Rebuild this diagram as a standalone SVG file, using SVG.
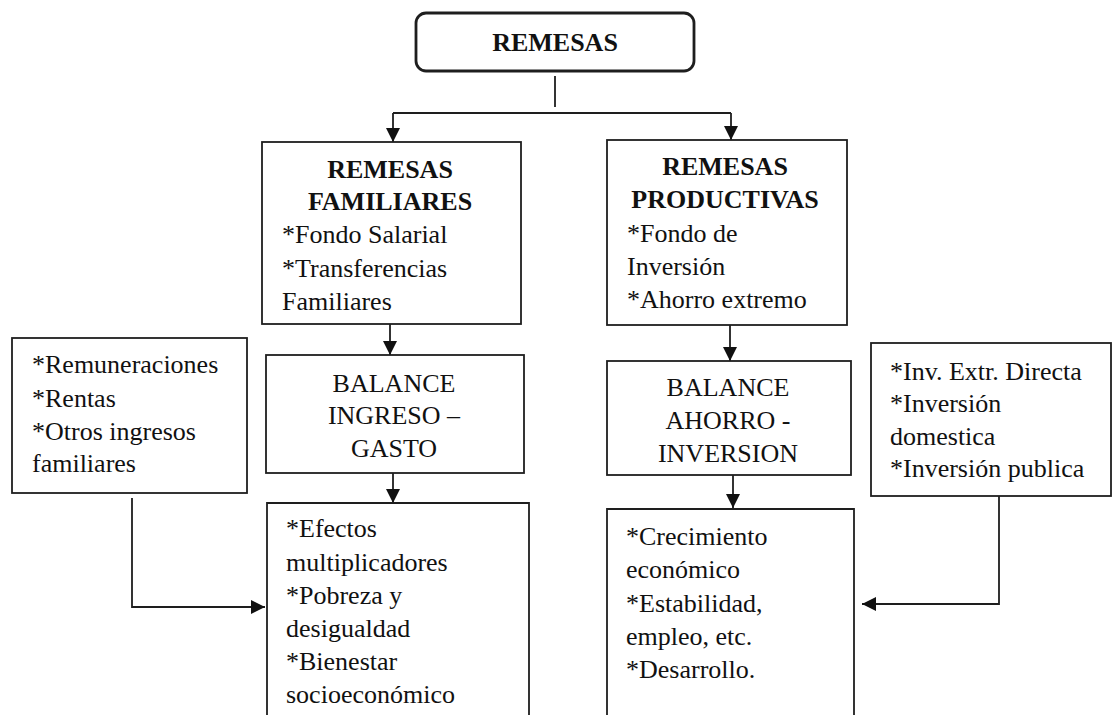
<svg xmlns="http://www.w3.org/2000/svg" width="1114" height="715" viewBox="0 0 1114 715">
<style>
.box{fill:#fff;stroke:#1e1e1e;stroke-width:1.8}
.top{fill:#fff;stroke:#1e1e1e;stroke-width:2.8}
svg g text{font-family:'Liberation Serif',serif !important;font-size:26px}
.b{font-weight:bold}
.c{text-anchor:middle}
.ln{fill:none;stroke:#1e1e1e;stroke-width:1.8}
</style>
<defs>
<marker id="ah" markerUnits="userSpaceOnUse" markerWidth="14" markerHeight="14" refX="14" refY="7" orient="auto">
<path d="M0,0 L14,7 L0,14 z" fill="#111"/>
</marker>
</defs>
<rect width="1114" height="715" fill="#fff"/>
<g id="connectors">
<path class="ln" d="M555,76 V107"/>
<path class="ln" d="M393,113 H731"/>
<path class="ln" d="M393,113 V142" marker-end="url(#ah)"/>
<path class="ln" d="M731,113 V140" marker-end="url(#ah)"/>
<path class="ln" d="M390,324 V355" marker-end="url(#ah)"/>
<path class="ln" d="M393,473 V503" marker-end="url(#ah)"/>
<path class="ln" d="M730,325 V361" marker-end="url(#ah)"/>
<path class="ln" d="M733,475 V508" marker-end="url(#ah)"/>
<path class="ln" d="M132,498 V607 H265" marker-end="url(#ah)"/>
<path class="ln" d="M999,496 V604 H862" marker-end="url(#ah)"/>
</g>
<g fill="#111">
<g id="remesas">
<rect class="top" x="416" y="13" width="278" height="58" rx="10"/>
<text class="b c" x="555" y="51" font-family="Liberation Serif" font-size="26">REMESAS</text>
</g>
<g id="familiares">
<rect class="box" x="262" y="142" width="259" height="182"/>
<text class="b c" x="390" y="178" font-family="Liberation Serif" font-size="26">REMESAS</text>
<text class="b c" x="390" y="210" font-family="Liberation Serif" font-size="26">FAMILIARES</text>
<text x="282" y="243" font-family="Liberation Serif" font-size="26">*Fondo Salarial</text>
<text x="282" y="277" font-family="Liberation Serif" font-size="26">*Transferencias</text>
<text x="282" y="310" font-family="Liberation Serif" font-size="26">Familiares</text>
</g>
<g id="productivas">
<rect class="box" x="607" y="140" width="240" height="185"/>
<text class="b c" x="725" y="175" font-family="Liberation Serif" font-size="26">REMESAS</text>
<text class="b c" x="725" y="208" font-family="Liberation Serif" font-size="26">PRODUCTIVAS</text>
<text x="627" y="242" font-family="Liberation Serif" font-size="26">*Fondo de</text>
<text x="627" y="275" font-family="Liberation Serif" font-size="26">Inversión</text>
<text x="627" y="308" font-family="Liberation Serif" font-size="26">*Ahorro extremo</text>
</g>
<g id="ingresos">
<rect class="box" x="12" y="338" width="235" height="155"/>
<text x="32" y="373" font-family="Liberation Serif" font-size="26">*Remuneraciones</text>
<text x="32" y="407" font-family="Liberation Serif" font-size="26">*Rentas</text>
<text x="32" y="440" font-family="Liberation Serif" font-size="26">*Otros ingresos</text>
<text x="32" y="472" font-family="Liberation Serif" font-size="26">familiares</text>
</g>
<g id="balance-ingreso">
<rect class="box" x="266" y="355" width="258" height="118"/>
<text class="c" x="394" y="392" font-family="Liberation Serif" font-size="26">BALANCE</text>
<text class="c" x="394" y="424" font-family="Liberation Serif" font-size="26">INGRESO –</text>
<text class="c" x="394" y="457" font-family="Liberation Serif" font-size="26">GASTO</text>
</g>
<g id="balance-ahorro">
<rect class="box" x="607" y="361" width="244" height="114"/>
<text class="c" x="728" y="396" font-family="Liberation Serif" font-size="26">BALANCE</text>
<text class="c" x="728" y="429" font-family="Liberation Serif" font-size="26">AHORRO -</text>
<text class="c" x="728" y="462" font-family="Liberation Serif" font-size="26">INVERSION</text>
</g>
<g id="inversion">
<rect class="box" x="871" y="343" width="240" height="153"/>
<text x="890" y="380" font-family="Liberation Serif" font-size="26">*Inv. Extr. Directa</text>
<text x="890" y="412" font-family="Liberation Serif" font-size="26">*Inversión</text>
<text x="890" y="445" font-family="Liberation Serif" font-size="26">domestica</text>
<text x="890" y="477" font-family="Liberation Serif" font-size="26">*Inversión publica</text>
</g>
<g id="efectos">
<path class="box" d="M267,720 V503 H529 V720"/>
<text x="286" y="537" font-family="Liberation Serif" font-size="26">*Efectos</text>
<text x="286" y="571" font-family="Liberation Serif" font-size="26">multiplicadores</text>
<text x="286" y="604" font-family="Liberation Serif" font-size="26">*Pobreza y</text>
<text x="286" y="637" font-family="Liberation Serif" font-size="26">desigualdad</text>
<text x="286" y="670" font-family="Liberation Serif" font-size="26">*Bienestar</text>
<text x="286" y="703" font-family="Liberation Serif" font-size="26">socioeconómico</text>
</g>
<g id="crecimiento">
<path class="box" d="M607,720 V509 H854 V720"/>
<text x="626" y="545" font-family="Liberation Serif" font-size="26">*Crecimiento</text>
<text x="626" y="578" font-family="Liberation Serif" font-size="26">económico</text>
<text x="626" y="612" font-family="Liberation Serif" font-size="26">*Estabilidad,</text>
<text x="626" y="645" font-family="Liberation Serif" font-size="26">empleo, etc.</text>
<text x="626" y="678" font-family="Liberation Serif" font-size="26">*Desarrollo.</text>
</g>
</g>
</svg>
